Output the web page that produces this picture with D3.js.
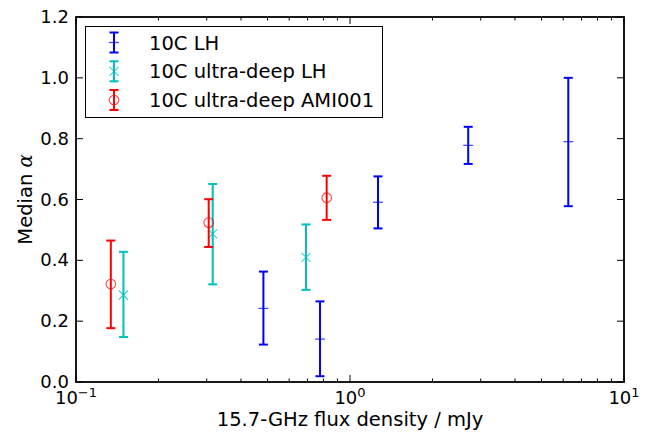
<!DOCTYPE html>
<html><head><meta charset="utf-8">
<script src="https://cdn.jsdelivr.net/npm/d3@7"></script>
<style>
html,body{margin:0;padding:0;background:#fff;}
text{font-family:"DejaVu Sans",sans-serif;fill:#000;}
</style></head>
<body><svg id="c" width="654" height="436"></svg>
<script>
// ---- data ----
const seriesNames = ["10C LH", "10C ultra-deep LH", "10C ultra-deep AMI001"];
const lhFlux  = [0.483, 0.777, 1.265, 2.70, 6.26];
const lhMed   = [0.242, 0.141, 0.591, 0.778, 0.790];
const lhLo    = [0.123, 0.019, 0.505, 0.717, 0.578];
const lhHi    = [0.363, 0.265, 0.676, 0.839, 1.000];
const udFlux  = [0.149, 0.3155, 0.691];
const udMed   = [0.286, 0.487, 0.410];
const udLo    = [0.148, 0.321, 0.303];
const udHi    = [0.428, 0.651, 0.518];
const amiFlux = [0.134, 0.305, 0.822];
const amiMed  = [0.322, 0.524, 0.606];
const amiLo   = [0.177, 0.444, 0.533];
const amiHi   = [0.465, 0.601, 0.678];
const yTicks  = [0.0, 0.2, 0.4, 0.6, 0.8, 1.0, 1.2];
const xDecades = [-1, 0, 1];

const svg = d3.select("#c");
const L = 76, R = 624, T = 17, B = 382;
const x = d3.scaleLog().domain([0.1, 10]).range([L, R]);
const y = d3.scaleLinear().domain([0, 1.2]).range([B, T]);

const colors = ["#0000ff", "#00bfbf", "#ff0000"];
const markers = ["plus", "x", "circle"];
const series = [
  {flux: lhFlux, med: lhMed, lo: lhLo, hi: lhHi},
  {flux: udFlux, med: udMed, lo: udLo, hi: udHi},
  {flux: amiFlux, med: amiMed, lo: amiLo, hi: amiHi}
];

function drawMarker(g, type, cx, cy, col) {
  if (type === "plus") {
    g.append("line").attr("x1", cx - 5).attr("x2", cx + 5).attr("y1", cy).attr("y2", cy)
      .attr("stroke", col).attr("stroke-width", 1.3).attr("stroke-opacity", 0.7);
  } else if (type === "x") {
    const s = 4.5;
    g.append("path").attr("d", `M${cx-s},${cy-s}L${cx+s},${cy+s}M${cx-s},${cy+s}L${cx+s},${cy-s}`)
      .attr("stroke", col).attr("stroke-width", 1.1).attr("stroke-opacity", 0.75).attr("fill", "none");
  } else {
    g.append("circle").attr("cx", cx).attr("cy", cy).attr("r", 4.8)
      .attr("stroke", col).attr("stroke-width", 1.1).attr("stroke-opacity", 0.75).attr("fill", "none");
  }
}
function drawErr(g, cx, y1, y2, col) {
  g.append("line").attr("x1", cx).attr("x2", cx).attr("y1", y1).attr("y2", y2)
    .attr("stroke", col).attr("stroke-width", 2);
  [y1, y2].forEach(yy => g.append("line").attr("x1", cx - 4.5).attr("x2", cx + 4.5)
    .attr("y1", yy).attr("y2", yy).attr("stroke", col).attr("stroke-width", 2));
}

const plot = svg.append("g");
series.forEach((s, k) => {
  s.flux.forEach((f, i) => {
    const cx = x(f);
    drawErr(plot, cx, y(s.hi[i]), y(s.lo[i]), colors[k]);
    drawMarker(plot, markers[k], cx, y(s.med[i]), colors[k]);
  });
});

// ---- axes ----
const ax = svg.append("g");
const majorLen = 7, minorLen = 3.5;
yTicks.forEach(v => {
  const yy = y(v);
  ax.append("line").attr("x1", L).attr("x2", L + majorLen).attr("y1", yy).attr("y2", yy).attr("stroke", "#000").attr("stroke-width", 1);
  ax.append("line").attr("x1", R).attr("x2", R - majorLen).attr("y1", yy).attr("y2", yy).attr("stroke", "#000").attr("stroke-width", 1);
  ax.append("text").attr("x", L - 7).attr("y", yy + 6).attr("text-anchor", "end")
    .attr("font-size", 18).text(d3.format(".1f")(v));
});
const minor = [];
for (let d = -1; d < 1; d++) for (let m = 2; m <= 9; m++) minor.push(m * Math.pow(10, d));
minor.forEach(v => {
  const xx = x(v);
  ax.append("line").attr("x1", xx).attr("x2", xx).attr("y1", B).attr("y2", B - minorLen).attr("stroke", "#000");
  ax.append("line").attr("x1", xx).attr("x2", xx).attr("y1", T).attr("y2", T + minorLen).attr("stroke", "#000");
});
xDecades.forEach(d => {
  const xx = x(Math.pow(10, d));
  ax.append("line").attr("x1", xx).attr("x2", xx).attr("y1", B).attr("y2", B - majorLen).attr("stroke", "#000");
  ax.append("line").attr("x1", xx).attr("x2", xx).attr("y1", T).attr("y2", T + majorLen).attr("stroke", "#000");
  const t = ax.append("text").attr("x", xx).attr("y", B + 22).attr("text-anchor", "middle").attr("font-size", 18);
  t.append("tspan").text("10");
  t.append("tspan").attr("dy", -7).attr("font-size", 13).text(d === -1 ? "\u22121" : String(d));
});
ax.append("rect").attr("x", L).attr("y", T).attr("width", R - L).attr("height", B - T)
  .attr("fill", "none").attr("stroke", "#000").attr("stroke-width", 1.8);

// axis labels
svg.append("text").attr("x", (L + R) / 2).attr("y", 426).attr("text-anchor", "middle")
  .attr("font-size", 19.5).text("15.7-GHz flux density / mJy");
const yl = svg.append("text").attr("transform", `translate(32,${(T + B) / 2}) rotate(-90)`)
  .attr("text-anchor", "middle").attr("font-size", 19.5);
yl.append("tspan").text("Median ");
yl.append("tspan").attr("font-style", "italic").attr("font-family", "DejaVu Serif").text("\u03b1");

// legend
const lg = svg.append("g");
lg.append("rect").attr("x", 85.5).attr("y", 26.5).attr("width", 297).attr("height", 91)
  .attr("fill", "#fff").attr("stroke", "#000").attr("stroke-width", 1);
const rowY = [42.5, 71.3, 100];
seriesNames.forEach((name, k) => {
  const cy = rowY[k], cx = 114;
  drawErr(lg, cx, cy - 10, cy + 10, colors[k]);
  drawMarker(lg, markers[k], cx, cy, colors[k]);
  lg.append("text").attr("x", 149).attr("y", cy + 7).attr("font-size", 19.5).text(name);
});
</script></body></html>
